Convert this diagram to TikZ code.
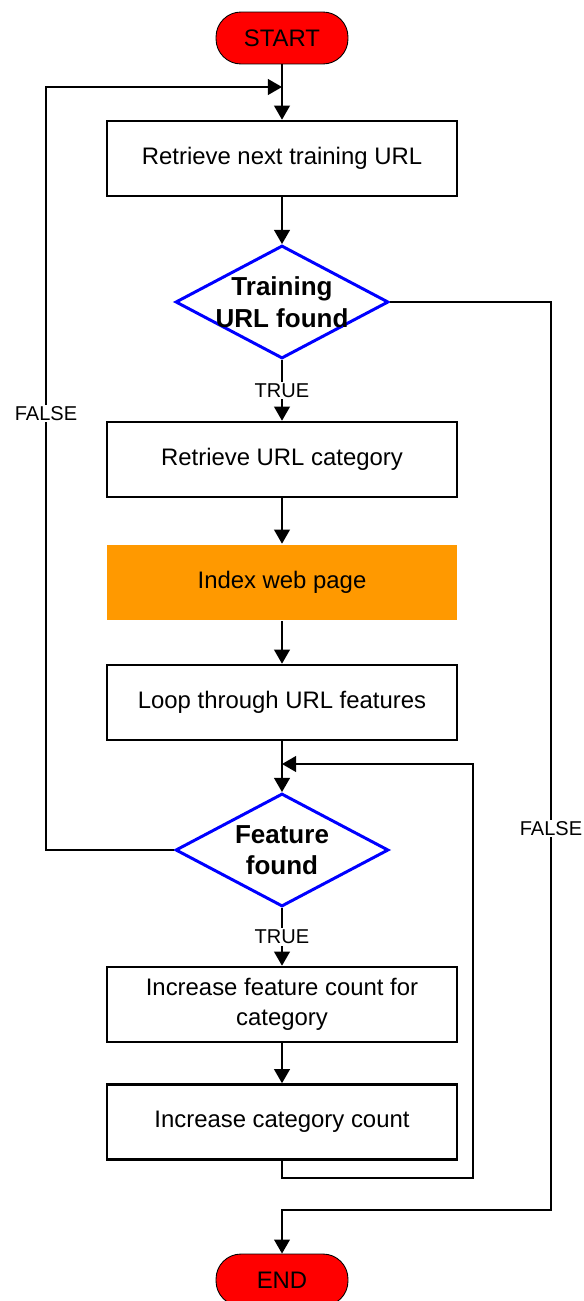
\documentclass[tikz,border=0pt]{standalone}
\usepackage{fontspec}
\setmainfont{Liberation Sans}
\usetikzlibrary{arrows.meta,shapes.geometric}

\begin{document}
\begin{tikzpicture}[x=0.02cm,y=-0.02cm,>={Triangle[length=8pt,width=9pt]},
  terminal/.style={rectangle,rounded corners=0.5cm,draw,line width=0.5pt,fill=red,minimum width=2.64cm,minimum height=1.04cm,font=\fontsize{13.6}{16}\selectfont},
  stepbox/.style={rectangle,draw,line width=1.5pt,minimum width=7cm,minimum height=1.5cm,align=center,font=\fontsize{13.6}{17}\selectfont},
  decision/.style={diamond,draw=blue,line width=1.7pt,minimum width=4.26cm,minimum height=2.26cm,inner sep=0pt},
  dtext/.style={align=center,font=\bfseries\fontsize{14.8}{18}\selectfont},
  lbl/.style={fill=white,inner sep=1pt,font=\fontsize{11.4}{13}\selectfont},
  line/.style={line width=0.85pt}]
\useasboundingbox (0,0) rectangle (584,1301);

\node[terminal] (start) at (282,38) {START};
\node[stepbox] (next) at (282,158.5) {Retrieve next training URL};
\node[decision,label={[dtext]center:Training\\URL found}] (urlfound) at (282,302) {};
\node[stepbox] (cat) at (282,459.5) {Retrieve URL category};
\node[stepbox,draw=none,fill={rgb,255:red,255;green,153;blue,0}] (index) at (282,582.5) {Index web page};
\node[stepbox] (loop) at (282,702.5) {Loop through URL features};
\node[decision,label={[dtext]center:Feature\\found}] (featfound) at (282,850) {};
\node[stepbox] (featcount) at (282,1004.5) {Increase feature count for\\category};
\node[stepbox] (catcount) at (282,1122) {Increase category count};
\node[terminal] (end) at (282,1280) {END};

\coordinate (m1) at (282,87);
\coordinate (m2) at (282,764);
\coordinate (c1) at (551,1210);
\coordinate (c2) at (473,1178);

\draw[line,->] (start) -- (next);
\draw[line,->] (next) -- (urlfound);
\draw[line,->] (urlfound) -- node[lbl]{TRUE} (cat);
\draw[line,->] (cat) -- (index);
\draw[line,->] (index) -- (loop);
\draw[line,->] (loop) -- (featfound);
\draw[line,->] (featfound) -- node[lbl]{TRUE} (featcount);
\draw[line,->] (featcount) -- (catcount);

% loops back
\draw[line,->] (catcount.south) |- (c2) |- (m2);
\draw[line,->] (featfound.west) -- ++(-128,0) |- node[lbl,pos=0.286]{FALSE} (m1);
\draw[line,->] (urlfound.east) -| node[lbl,pos=0.79]{FALSE} (c1) -| (end);

\end{tikzpicture}
\end{document}
